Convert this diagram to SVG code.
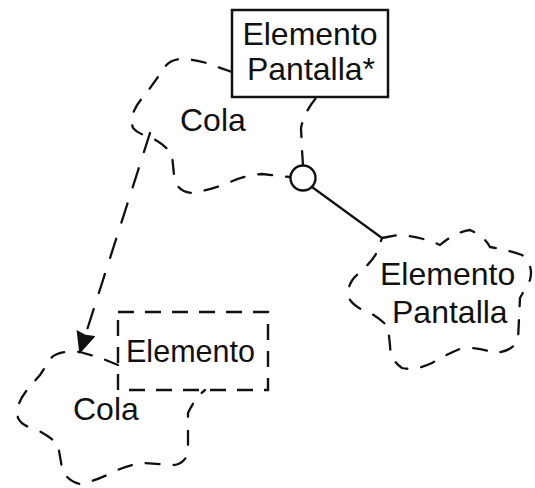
<svg xmlns="http://www.w3.org/2000/svg" width="535" height="488" viewBox="0 0 535 488">
<style>
text{font-family:"Liberation Sans",Arial,Helvetica,sans-serif;font-size:32px;fill:#111}
.cloud{fill:none;stroke:#111;stroke-width:2.3;stroke-dasharray:14 14;stroke-linecap:round;stroke-linejoin:round}
.box{fill:#fff;stroke:#111;stroke-width:2.5}
.dbox{fill:none;stroke:#111;stroke-width:2.4;stroke-dasharray:16 11}
.link{fill:none;stroke:#111;stroke-width:2.2}
.dep{fill:none;stroke:#111;stroke-width:2.3;stroke-dasharray:20 17;stroke-linecap:round}
</style>
<defs>
<marker id="ah" markerUnits="userSpaceOnUse" markerWidth="26" markerHeight="26" refX="20" refY="10" orient="auto">
<path d="M0,0 L22,10 L0,20 L2,10 Z" fill="#111"/>
</marker>
</defs>
<g id="cola1">
<path class="cloud" d="M232,72 L212,65 Q197,59 180,59 Q168,60 163,70 L145,95 Q128,113 133,128 Q138,134 150,137 Q166,145 172,155 L174,175 Q176,192 192,193 Q210,190 228,183 Q245,175 262,174 L290,177"/>
<path class="cloud" d="M303,165 L302,150 L301,128 Q304,112 317,97"/>
<text x="180" y="131">Cola</text>
</g>
<g id="cola2">
<path class="cloud" d="M118,365 L98,357 L80,352 Q60,350 52,357 L40,375 L27,390 Q15,405 18,418 Q22,426 35,429 Q50,436 58,445 L61,462 Q63,480 80,484 Q96,481 113,472 Q128,465 143,463 L175,465 Q188,462 188,448 L188,413 Q195,398 205,390"/>
<text x="73" y="420">Cola</text>
</g>
<g id="elemento">
<rect class="dbox" x="118" y="312" width="150" height="78"/>
<text x="126" y="362" textLength="129" lengthAdjust="spacingAndGlyphs">Elemento</text>
</g>
<g id="elemento-pantalla-star">
<rect class="box" x="232" y="10" width="156" height="87"/>
<text x="310" y="45" text-anchor="middle">Elemento</text>
<text x="311" y="80" text-anchor="middle">Pantalla*</text>
</g>
<g id="elemento-pantalla">
<path class="cloud" d="M382,238 L398,235 Q420,236 440,245 Q455,232 470,230 Q484,236 490,247 Q508,250 522,255 Q534,265 530,280 L520,298 L518,340 Q512,352 493,353 Q480,347 462,348 Q445,355 432,363 Q415,371 402,368 Q390,360 390,345 L388,327 Q382,320 372,314 Q350,306 348,295 Q348,282 358,274 Q372,262 377,252 Z"/>
<text x="380" y="285">Elemento</text>
<text x="392" y="323">Pantalla</text>
</g>
<g id="connectors">
<circle cx="303" cy="178" r="12.5" fill="#fff" stroke="#111" stroke-width="2.4"/>
<line class="link" x1="312" y1="187" x2="382" y2="238"/>
<path class="dep" d="M150,133 L80,352" marker-end="url(#ah)"/>
</g>
</svg>
